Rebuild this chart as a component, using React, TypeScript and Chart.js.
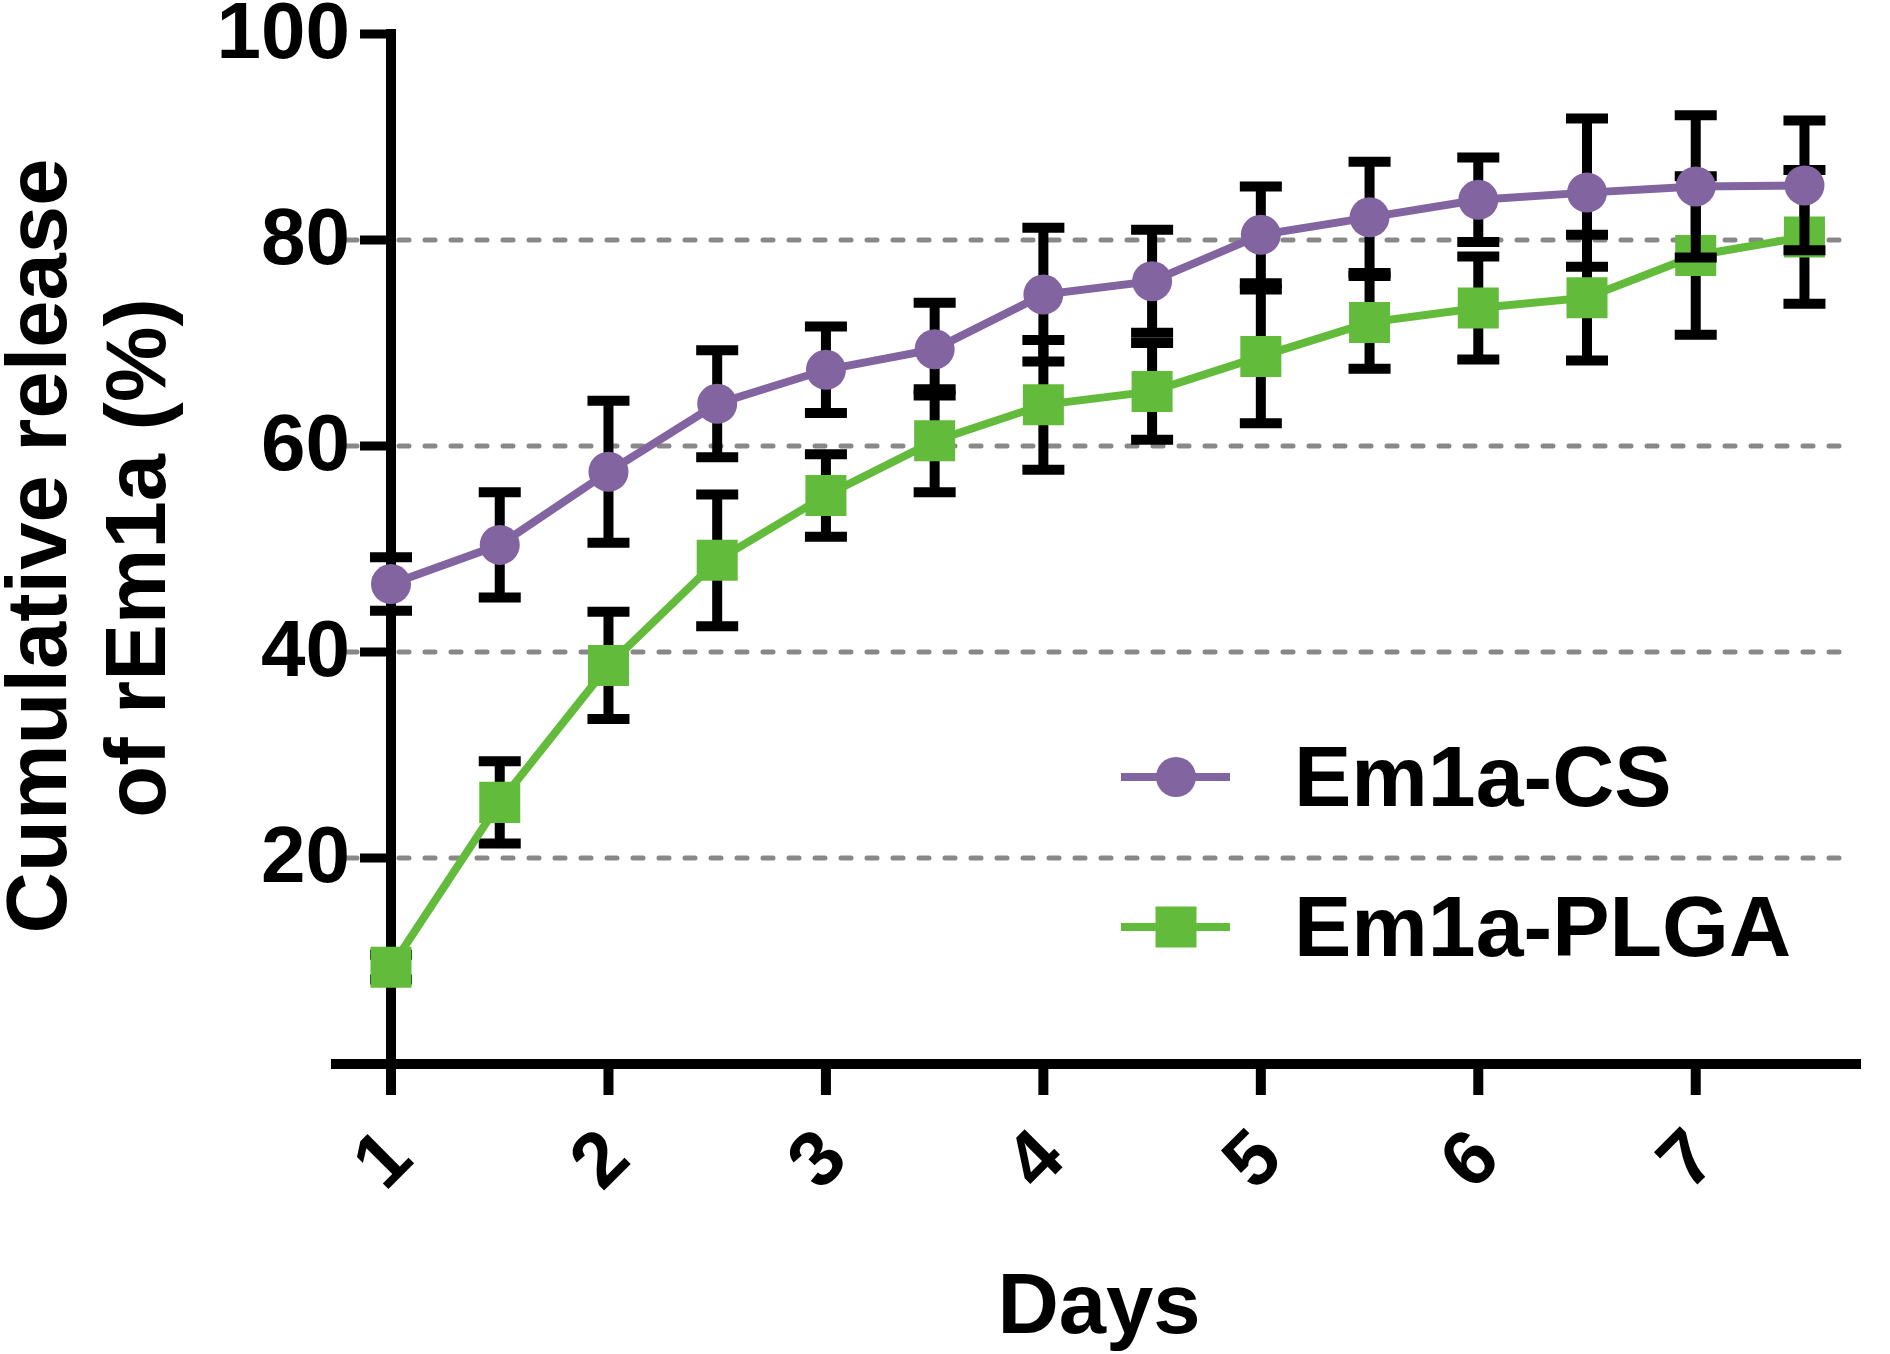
import React, { useEffect, useRef } from 'react';
import { Chart, registerables } from 'chart.js';

Chart.register(...registerables);

// sampling times (days) and cumulative release (%), mean and SD
const days = [1, 1.5, 2, 2.5, 3, 3.5, 4, 4.5, 5, 5.5, 6, 6.5, 7, 7.5];
const csValues = [46.6, 50.4, 57.5, 64.1, 67.4, 69.4, 74.7, 76.0, 80.5, 82.2, 83.9, 84.6, 85.2, 85.3];
const csErrors = [2.6, 5.1, 6.9, 5.2, 4.2, 4.5, 6.5, 5.0, 4.7, 5.4, 4.1, 7.2, 6.9, 6.3];
const plgaValues = [9.4, 25.4, 38.7, 48.9, 55.2, 60.5, 64.0, 65.3, 68.7, 72.0, 73.4, 74.4, 78.5, 80.3];
const plgaErrors = [1.2, 4.0, 5.2, 6.4, 4.0, 5.0, 6.3, 4.7, 6.5, 4.5, 5.0, 6.1, 7.7, 6.5];

const dayTicks = [1, 2, 3, 4, 5, 6, 7];
const releaseTicks = [20, 40, 60, 80, 100];
const gridValues = [20, 40, 60, 80];
const seriesNames = ['Em1a-CS', 'Em1a-PLGA'];

const FONT = '"Liberation Sans", Arial, Helvetica, sans-serif';
const PURPLE = '#8164a0';
const GREEN = '#63bb3b';

const errorBars = {
    id: 'errorBars',
    beforeDatasetDraw(chart: any, args: any) {
        const ds = chart.data.datasets[args.index];
        const { x, y } = chart.scales;
        const ctx = chart.ctx;
        ctx.save();
        ctx.strokeStyle = '#000';
        ctx.lineWidth = 10;
        ds.data.forEach((p: any, i: number) => {
            const e = ds.errors[i];
            const px = x.getPixelForValue(p.x);
            const top = y.getPixelForValue(p.y + e);
            const bottom = y.getPixelForValue(p.y - e);
            ctx.beginPath();
            ctx.moveTo(px, top);
            ctx.lineTo(px, bottom);
            ctx.moveTo(px - 21, top);
            ctx.lineTo(px + 21, top);
            ctx.moveTo(px - 21, bottom);
            ctx.lineTo(px + 21, bottom);
            ctx.stroke();
        });
        ctx.restore();
    },
};

const axes = {
    id: 'axes',
    beforeDatasetsDraw(chart: any) {
        const { ctx, chartArea } = chart;
        const { x, y } = chart.scales;
        const x0 = x.getPixelForValue(1);
        const y0 = y.getPixelForValue(0);
        ctx.save();

        // dashed grid
        ctx.strokeStyle = '#888888';
        ctx.lineWidth = 5;
        ctx.lineCap = 'round';
        ctx.setLineDash([10, 16]);
        gridValues.forEach((v) => {
            const py = y.getPixelForValue(v);
            ctx.beginPath();
            ctx.moveTo(chartArea.left + 16, py);
            ctx.lineTo(chartArea.right - 14, py);
            ctx.stroke();
        });
        ctx.setLineDash([]);
        ctx.lineCap = 'butt';

        // axis lines and ticks
        ctx.strokeStyle = '#000';
        ctx.lineWidth = 10;
        ctx.beginPath();
        ctx.moveTo(chartArea.left, y0);
        ctx.lineTo(chartArea.right, y0);
        ctx.moveTo(x0, y.getPixelForValue(100) - 5);
        ctx.lineTo(x0, y0);
        dayTicks.forEach((d) => {
            const px = x.getPixelForValue(d);
            ctx.moveTo(px, y0);
            ctx.lineTo(px, y0 + 31);
        });
        ctx.stroke();
        ctx.lineWidth = 9;
        ctx.beginPath();
        releaseTicks.forEach((v) => {
            const py = y.getPixelForValue(v);
            ctx.moveTo(x0 - 31, py);
            ctx.lineTo(x0, py);
        });
        ctx.stroke();

        // tick labels
        ctx.fillStyle = '#000';
        ctx.font = `bold 80px ${FONT}`;
        ctx.textAlign = 'right';
        ctx.textBaseline = 'middle';
        releaseTicks.forEach((v) => {
            ctx.fillText(String(v), x0 - 41, y.getPixelForValue(v) + 2);
        });
        ctx.font = `bold 78px ${FONT}`;
        ctx.textAlign = 'center';
        dayTicks.forEach((d) => {
            ctx.save();
            ctx.translate(x.getPixelForValue(d) - 6, y0 + 98);
            ctx.rotate(-Math.PI / 4);
            ctx.fillText(String(d), 0, 0);
            ctx.restore();
        });

        // axis titles
        ctx.font = `bold 85px ${FONT}`;
        ctx.textBaseline = 'alphabetic';
        ctx.fillText('Days', (chartArea.left + chartArea.right) / 2 + 3, 1333);
        ctx.save();
        ctx.translate(66, 546);
        ctx.rotate(-Math.PI / 2);
        ctx.fillText('Cumulative release', 0, 0);
        ctx.restore();
        ctx.save();
        ctx.translate(165, 558);
        ctx.rotate(-Math.PI / 2);
        ctx.fillText('of rEm1a (%)', 0, 0);
        ctx.restore();

        ctx.restore();
    },
};

const legendBox = {
    id: 'legendBox',
    afterDraw(chart: any) {
        const ctx = chart.ctx;
        const rows = [777, 927];
        ctx.save();
        chart.data.datasets.forEach((ds: any, i: number) => {
            const ly = rows[i];
            ctx.strokeStyle = ds.borderColor;
            ctx.lineWidth = 8;
            ctx.beginPath();
            ctx.moveTo(1121, ly);
            ctx.lineTo(1230, ly);
            ctx.stroke();
            ctx.fillStyle = ds.backgroundColor;
            if (ds.pointStyle === 'rect') {
                ctx.fillRect(1176 - 20.5, ly - 20.5, 41, 41);
            } else {
                ctx.beginPath();
                ctx.arc(1176, ly, 20, 0, Math.PI * 2);
                ctx.fill();
            }
            ctx.fillStyle = '#000';
            ctx.font = `bold 86px ${FONT}`;
            ctx.textAlign = 'left';
            ctx.textBaseline = 'alphabetic';
            ctx.fillText(ds.label, 1294, ly + 29);
        });
        ctx.restore();
    },
};

const App: React.FC = () => {
    const canvasRef = useRef<HTMLCanvasElement>(null);

    useEffect(() => {
        if (canvasRef.current) {
            const ctx = canvasRef.current.getContext('2d');
            if (ctx) {
                const myChart = new Chart(ctx, {
                    type: 'line',
                    data: {
                        datasets: [
                            {
                                label: seriesNames[0],
                                data: days.map((d, i) => ({ x: d, y: csValues[i] })),
                                errors: csErrors,
                                borderColor: PURPLE,
                                backgroundColor: PURPLE,
                                borderWidth: 8,
                                pointStyle: 'circle',
                                pointRadius: 20,
                                pointBorderWidth: 0,
                                pointBackgroundColor: PURPLE,
                                tension: 0,
                                clip: false,
                            } as any,
                            {
                                label: seriesNames[1],
                                data: days.map((d, i) => ({ x: d, y: plgaValues[i] })),
                                errors: plgaErrors,
                                borderColor: GREEN,
                                backgroundColor: GREEN,
                                borderWidth: 8,
                                pointStyle: 'rect',
                                pointRadius: 29,
                                pointBorderWidth: 0,
                                pointBackgroundColor: GREEN,
                                tension: 0,
                                clip: false,
                            } as any,
                        ],
                    },
                    options: {
                        responsive: false,
                        devicePixelRatio: 1,
                        animation: false,
                        layout: {
                            padding: { left: 331, right: 4, top: 34, bottom: 290 },
                        },
                        scales: {
                            x: { type: 'linear', min: 0.724, max: 7.76, display: false },
                            y: { type: 'linear', min: 0, max: 100, display: false },
                        },
                        plugins: {
                            legend: { display: false },
                            tooltip: { enabled: false },
                        },
                    },
                    plugins: [axes, errorBars, legendBox],
                });

                return () => {
                    myChart.destroy();
                };
            }
        }
    }, []);

    return (
        <div style={{ position: 'absolute', left: 0, top: 0, background: '#fff' }}>
            <canvas ref={canvasRef} width={1890} height={1354} style={{ display: 'block' }} />
        </div>
    );
};

export default App;
